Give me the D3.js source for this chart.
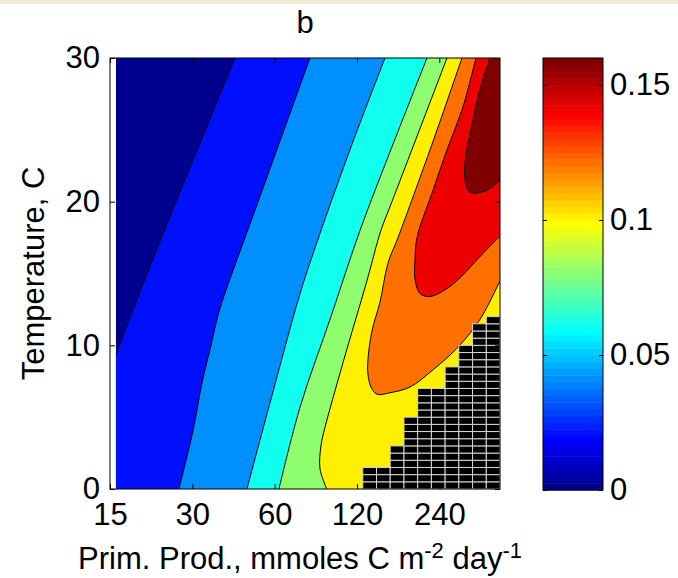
<!DOCTYPE html>
<html>
<head>
<meta charset="utf-8">
<script src="https://cdn.jsdelivr.net/npm/d3@7/dist/d3.min.js"></script>
<style>
  body { margin: 0; background: #fff; }
  svg text { font-family: "Liberation Sans", Arial, Helvetica, sans-serif; fill: #000; }
</style>
</head>
<body>
<svg id="chart" width="678" height="578"></svg>
<script>
// ---- data -------------------------------------------------------------
// Contour levels of the field and colour-scale limits
const levels = [0.02, 0.04, 0.06, 0.08, 0.10, 0.12, 0.14, 0.16];
const colorLimits = [0, 0.16];

// Sampled range of primary production (mmoles C m^-2 day^-1) and temperature (C)
const ppRange = [15.75, 400];
const tempRange = [0, 30];

// Contour lines as [primary production, temperature] vertices
const contour002 = [[15.75, 9.33], [18.83, 13.2], [26.15, 20], [42.96, 30]];
const contour004 = [[26.8, 0], [30.2, 4.1], [32.55, 7.4], [35.1, 10], [36.9, 11.8], [38.8, 13.2],
                    [52.2, 20], [64.9, 25], [80.8, 30]];
const contour006 = [[47.5, 0], [57.7, 6], [74.3, 13.6], [87.2, 17.6], [115.1, 24], [151.9, 30]];
const contour008 = [[62.2, 0], [74.3, 5.7], [96.4, 12], [123.1, 18], [162.5, 24], [216.3, 30]];
const contour010 = [[93.0, 0], [87.9, 1.4], [88.6, 3], [91.7, 4.3], [106.7, 8.8], [130.5, 14.5],
                    [146.8, 18], [161.1, 20], [193.9, 24], [256.0, 30]];
const contour012 = [[290.4, 30], [225.7, 24], [169.5, 17.5], [155.7, 15.7], [145.6, 13], [136.1, 11],
                    [131.6, 9], [131.6, 8], [135.0, 7.1], [142.0, 6.6], [158.4, 6.7], [187.5, 7.1],
                    [227.6, 8.3], [278.5, 9.8], [337.9, 11.8], [400, 14.5]];
const contour014 = [[326.7, 30], [292.9, 26.6], [256.0, 23.6], [227.6, 20.8], [198.9, 17.5],
                    [195.6, 16], [195.6, 14.6], [204.0, 13.6], [221.9, 13.4], [262.6, 14.1],
                    [302.9, 15.2], [346.6, 16.4], [400, 17.6]];
const contour016 = [[367.6, 30], [337.9, 27.8], [318.6, 25.7], [297.9, 22.7], [297.9, 21.5],
                    [305.5, 20.8], [315.9, 20.6], [358.4, 20.8], [400, 21.5]];
const contours = [contour002, contour004, contour006, contour008, contour010,
                  contour012, contour014, contour016];

// Cells without a solution: column edges in primary production and the
// highest masked temperature of each column (cells are 0.5 C tall)
const maskEdges = [126.0, 141.4, 158.7, 178.2, 200.0, 224.5, 252.0, 282.8, 317.5, 356.4, 400];
const maskTop = [1.5, 1.5, 3, 5, 7, 7, 8.5, 10, 11.5, 12];
const maskStep = 0.5;

// Axis ticks
const xTicks = [15, 30, 60, 120, 240];
const yTicks = [0, 10, 20, 30];
const cbTicks = [0, 0.05, 0.1, 0.15];
const cbTickLabels = ["0", "0.05", "0.1", "0.15"];

// ---- layout -----------------------------------------------------------
const plot = { left: 110, right: 500, top: 58, bottom: 489 };
const cbar = { left: 543, right: 603, top: 58, bottom: 490 };
const fontSize = 31;

const svg = d3.select("#chart");

// jet colormap with 64 entries (index 1..64)
function jet(i) {
  const u = k => (k >= 1 && k <= 47) ? (k <= 16 ? k / 16 : (k <= 31 ? 1 : (48 - k) / 16)) : 0;
  return d3.rgb(Math.round(u(i - 24) * 255), Math.round(u(i - 8) * 255), Math.round(u(i + 8) * 255)).formatHex();
}
function colorIndex(v) {
  const f = (v - colorLimits[0]) / (colorLimits[1] - colorLimits[0]);
  return Math.max(1, Math.min(64, Math.floor(f * 64 + 1e-9) + 1));
}

const x = d3.scaleLog().domain([15, 400]).range([plot.left, plot.right]);
const y = d3.scaleLinear().domain(tempRange).range([plot.bottom, plot.top]);
const c = d3.scaleLinear().domain(colorLimits).range([cbar.bottom, cbar.top]);

// top band
svg.append("rect").attr("x", 0).attr("y", 0).attr("width", 678).attr("height", 4).attr("fill", "#f1ead9");

// ---- filled contours --------------------------------------------------
svg.append("clipPath").attr("id", "dataClip")
  .append("rect")
  .attr("x", x(ppRange[0])).attr("y", y(tempRange[1]))
  .attr("width", x(ppRange[1]) - x(ppRange[0]))
  .attr("height", y(tempRange[0]) - y(tempRange[1]));

const fills = svg.append("g").attr("clip-path", "url(#dataClip)");
const lineGen = d3.line().x(d => x(d[0])).y(d => y(d[1])).curve(d3.curveCatmullRom.alpha(0.5));

// lowest band: whole sampled area
fills.append("rect")
  .attr("x", x(ppRange[0])).attr("y", y(tempRange[1]))
  .attr("width", x(ppRange[1]) - x(ppRange[0]))
  .attr("height", y(tempRange[0]) - y(tempRange[1]))
  .attr("fill", jet(colorIndex(colorLimits[0])));

// region above each level, closed along the plot border on its high side
function regionPath(pts) {
  const first = pts[0], last = pts[pts.length - 1];
  const corners = [];
  if (last[1] === tempRange[1]) corners.push([ppRange[1], tempRange[1]]);
  if (first[1] === tempRange[0] || first[0] === ppRange[0]) corners.push([ppRange[1], tempRange[0]]);
  if (first[0] === ppRange[0] && first[1] !== tempRange[0]) corners.push([ppRange[0], tempRange[0]]);
  if (first[1] === tempRange[1] && last[0] === ppRange[1]) corners.push([ppRange[1], tempRange[1]]);
  let p = lineGen(pts);
  corners.forEach(k => { p += `L${x(k[0])},${y(k[1])}`; });
  return p + "Z";
}

levels.forEach((lv, i) => {
  fills.append("path")
    .attr("d", regionPath(contours[i]))
    .attr("fill", jet(colorIndex(lv)));
});

// contour lines
levels.forEach((lv, i) => {
  fills.append("path")
    .attr("d", lineGen(contours[i]))
    .attr("fill", "none")
    .attr("stroke", "#000")
    .attr("stroke-width", 1);
});

// ---- masked cells -----------------------------------------------------
const cells = [];
maskTop.forEach((top, k) => {
  for (let t = tempRange[0]; t < top - 1e-9; t += maskStep) {
    cells.push({ p0: maskEdges[k], p1: maskEdges[k + 1], t0: t, t1: t + maskStep });
  }
});
svg.append("g").selectAll("rect").data(cells).join("rect")
  .attr("x", d => x(d.p0)).attr("y", d => y(d.t1))
  .attr("width", d => x(d.p1) - x(d.p0)).attr("height", d => y(d.t0) - y(d.t1))
  .attr("fill", "#000").attr("stroke", "#d6d6d6").attr("stroke-width", 1);

// ---- axes -------------------------------------------------------------
function styleAxis(g) {
  g.attr("font-size", null).attr("font-family", null);
  g.select(".domain").remove();
  g.selectAll("line").attr("stroke", "#000");
  g.selectAll("text").attr("font-size", fontSize);
}
svg.append("g").attr("transform", `translate(0,${plot.bottom})`)
  .call(d3.axisBottom(x).tickValues(xTicks).tickFormat(d3.format("d")).tickSize(-5).tickPadding(14))
  .call(styleAxis);
svg.append("g").attr("transform", `translate(0,${plot.top})`)
  .call(d3.axisTop(x).tickValues(xTicks).tickFormat("").tickSize(-5))
  .call(styleAxis);
svg.append("g").attr("transform", `translate(${plot.left},0)`)
  .call(d3.axisLeft(y).tickValues(yTicks).tickFormat(d3.format("d")).tickSize(-5).tickPadding(10))
  .call(styleAxis);
svg.append("g").attr("transform", `translate(${plot.right},0)`)
  .call(d3.axisRight(y).tickValues(yTicks).tickFormat("").tickSize(-5))
  .call(styleAxis);

svg.append("rect")
  .attr("x", plot.left).attr("y", plot.top)
  .attr("width", plot.right - plot.left).attr("height", plot.bottom - plot.top)
  .attr("fill", "none").attr("stroke", "#000").attr("stroke-width", 1);

// ---- colour bar -------------------------------------------------------
const bands = d3.range(1, 65);
svg.append("g").selectAll("rect").data(bands).join("rect")
  .attr("x", cbar.left)
  .attr("y", i => c(colorLimits[0] + i / 64 * (colorLimits[1] - colorLimits[0])))
  .attr("width", cbar.right - cbar.left)
  .attr("height", i => c(colorLimits[0] + (i - 1) / 64 * (colorLimits[1] - colorLimits[0])) -
                       c(colorLimits[0] + i / 64 * (colorLimits[1] - colorLimits[0])) + 0.5)
  .attr("fill", i => jet(i));

svg.append("g").attr("transform", `translate(${cbar.right},0)`)
  .call(d3.axisRight(c).tickValues(cbTicks).tickFormat((d, i) => cbTickLabels[i]).tickSize(-4).tickPadding(7))
  .call(styleAxis);
svg.append("g").attr("transform", `translate(${cbar.left},0)`)
  .call(d3.axisLeft(c).tickValues(cbTicks).tickFormat("").tickSize(-4))
  .call(styleAxis);
svg.append("rect")
  .attr("x", cbar.left).attr("y", cbar.top)
  .attr("width", cbar.right - cbar.left).attr("height", cbar.bottom - cbar.top)
  .attr("fill", "none").attr("stroke", "#000").attr("stroke-width", 1);

// ---- titles -----------------------------------------------------------
svg.append("text").attr("x", (plot.left + plot.right) / 2).attr("y", 33)
  .attr("text-anchor", "middle").attr("font-size", fontSize).text("b");

svg.append("text")
  .attr("transform", `translate(44,${(plot.top + plot.bottom) / 2}) rotate(-90)`)
  .attr("text-anchor", "middle").attr("font-size", fontSize).text("Temperature, C");

const xl = svg.append("text").attr("x", 300).attr("y", 569)
  .attr("text-anchor", "middle").attr("font-size", fontSize);
xl.append("tspan").text("Prim. Prod., mmoles C m");
xl.append("tspan").attr("dy", -11).attr("font-size", 22).text("-2");
xl.append("tspan").attr("dy", 11).text(" day");
xl.append("tspan").attr("dy", -11).attr("font-size", 22).text("-1");
</script>
</body>
</html>
